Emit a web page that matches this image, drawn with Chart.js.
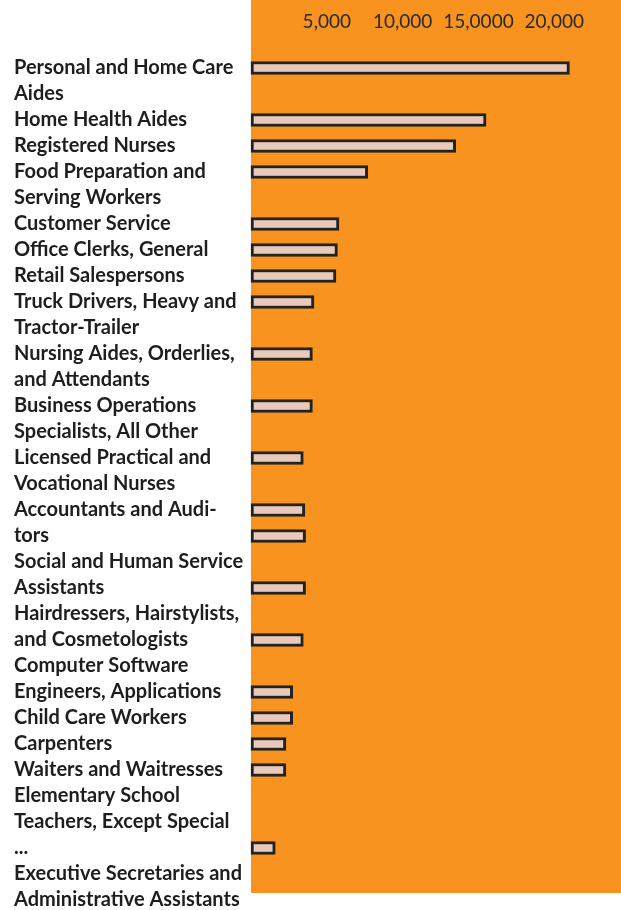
<!DOCTYPE html>
<html>
<head>
<meta charset="utf-8">
<script src="https://cdn.jsdelivr.net/npm/chart.js@4/dist/chart.umd.min.js"></script>
<style>
html,body{margin:0;padding:0;background:#fff;}
#wrap{width:621px;height:910px;position:relative;}
</style>
</head>
<body>
<div id="wrap"><canvas id="c" width="621" height="910"></canvas></div>
<script>
// Text lines of the occupation labels, as wrapped in the reference
const labelLines = [
  "Personal and Home Care", "Aides",
  "Home Health Aides",
  "Registered Nurses",
  "Food Preparation and", "Serving Workers",
  "Customer Service",
  "Office Clerks, General",
  "Retail Salespersons",
  "Truck Drivers, Heavy and", "Tractor-Trailer",
  "Nursing Aides, Orderlies,", "and Attendants",
  "Business Operations", "Specialists, All Other",
  "Licensed Practical and", "Vocational Nurses",
  "Accountants and Audi-", "tors",
  "Social and Human Service", "Assistants",
  "Hairdressers, Hairstylists,", "and Cosmetologists",
  "Computer Software", "Engineers, Applications",
  "Child Care Workers",
  "Carpenters",
  "Waiters and Waitresses",
  "Elementary School", "Teachers, Except Special",
  "...",
  "Executive Secretaries and", "Administrative Assistants"
];
// Bar value drawn on each text line (null = no bar on that line)
const jobValues = [
  21000, null,
  15500,
  13500,
  7700, null,
  5800,
  5700,
  5600,
  4150, null,
  4050, null,
  4050, null,
  3450, null,
  3550,
  3600, null,
  3600, null,
  3450, null,
  2750,
  2750,
  2300,
  2300, null, null,
  1600, null, null
];
const xTicks = [5000, 10000, 15000, 20000];
const xTickLabels = ["5,000", "10,000", "15,0000", "20,000"];

const bgPlugin = {
  id: 'bg',
  beforeDraw(chart) {
    const {ctx, chartArea} = chart;
    ctx.save();
    ctx.fillStyle = '#ffffff';
    ctx.fillRect(0, 0, chart.width, chart.height);
    ctx.fillStyle = '#F7931E';
    ctx.fillRect(chartArea.left, 0, chart.width - chartArea.left, chartArea.bottom - 7);
    ctx.restore();
  }
};

new Chart(document.getElementById('c'), {
  type: 'bar',
  data: {
    labels: labelLines,
    datasets: [{
      data: jobValues,
      backgroundColor: '#E8CABD',
      borderColor: '#222222',
      borderWidth: 3,
      borderSkipped: false,
      barThickness: 13,
      skipNull: true,
      clip: false
    }]
  },
  options: {
    indexAxis: 'y',
    responsive: false,
    animation: false,
    layout: {padding: {left: 14, top: 0, right: 0, bottom: 10}},
    plugins: {legend: {display: false}, tooltip: {enabled: false}},
    scales: {
      x: {
        position: 'top',
        min: 0,
        max: 24400,
        afterBuildTicks(scale) { scale.ticks = xTicks.map(v => ({value: v})); },
        afterFit(scale) { scale.height = 68; },
        ticks: {
          callback: (v) => xTickLabels[xTicks.indexOf(v)] ?? '',
          color: '#2a2a2a',
          font: {family: 'Lato', size: 19},
          padding: 35,
          maxRotation: 0
        },
        grid: {display: false, drawTicks: false},
        border: {display: false}
      },
      y: {
        offset: false,
        afterFit(scale) { scale.width = 237; scale.paddingTop = 0; scale.paddingBottom = 0; },
        ticks: {
          autoSkip: false,
          crossAlign: 'far',
          color: '#1e1e1e',
          font: {family: 'Lato', size: 20, weight: 'bold'},
          padding: 0
        },
        grid: {display: false, drawTicks: false},
        border: {display: false}
      }
    }
  },
  plugins: [bgPlugin]
});
</script>
</body>
</html>
